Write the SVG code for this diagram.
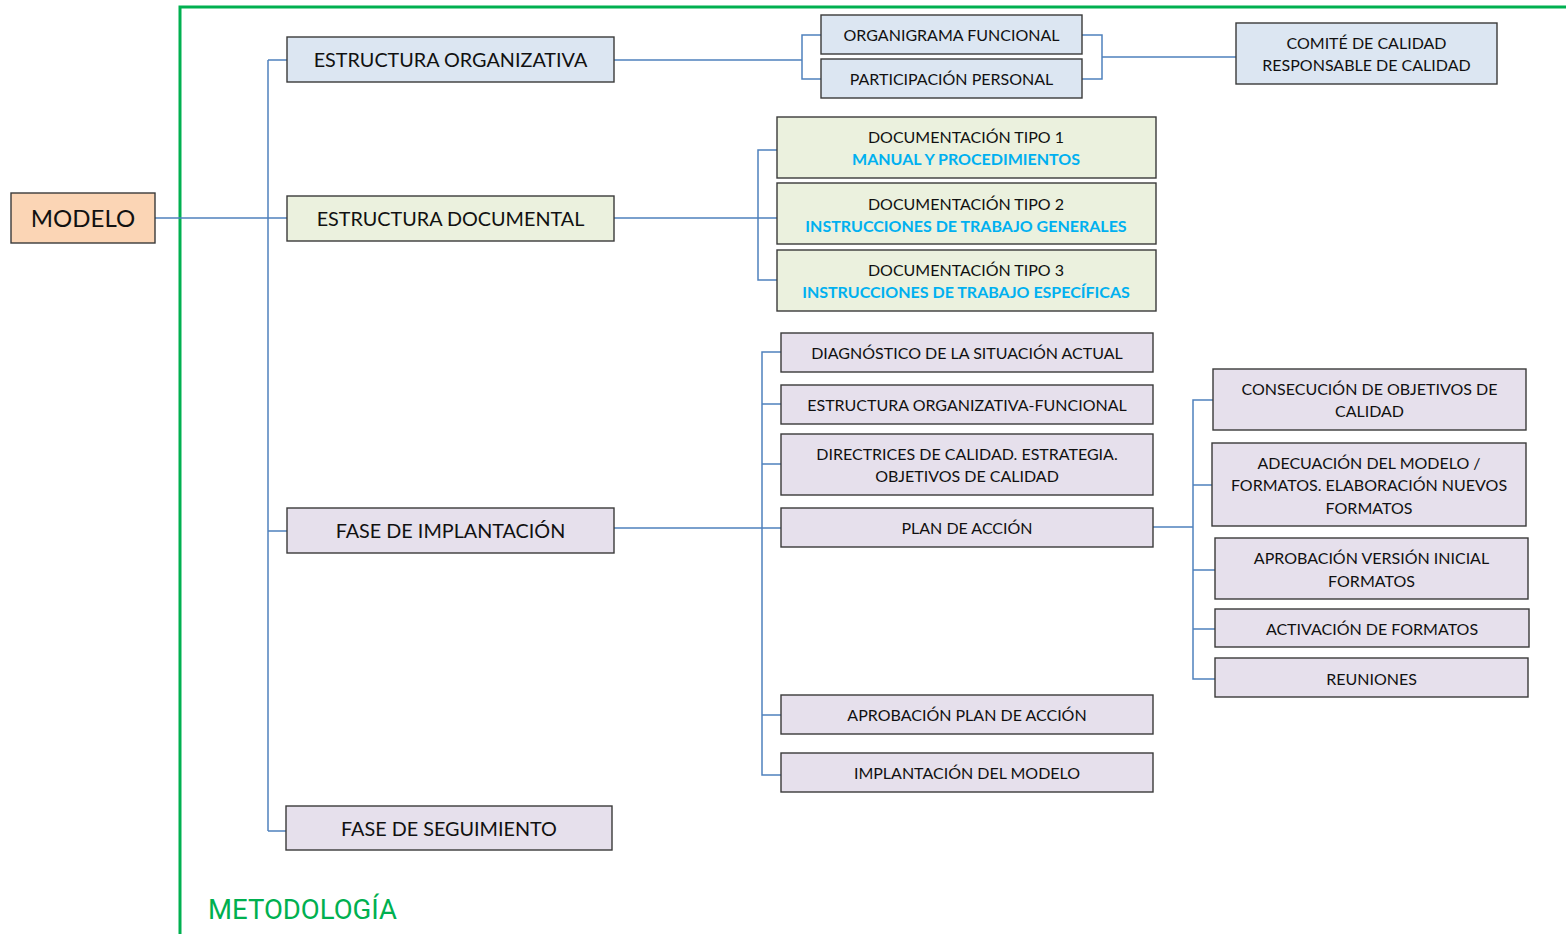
<svg xmlns="http://www.w3.org/2000/svg" width="1566" height="934" viewBox="0 0 1566 934">
  <style>
    .box rect { stroke: #3a3a3a; stroke-width: 1.4; }
    .blue rect { fill: #DCE6F2; }
    .olive rect { fill: #EBF1DE; }
    .lilac rect { fill: #E6E0EC; }
    .peach rect { fill: #FBD5B5; }
    text { font-family: Lato, "Open Sans", "Liberation Sans", sans-serif; fill: #111; text-anchor: middle; }
    .t1 { font-size: 19.8px; }
    .t2 { font-size: 16px; }
    .hl { font-size: 16px; font-weight: bold; fill: #00B0F0; }
    .conn { fill: none; stroke: #4F81BD; stroke-width: 1.5; }
  </style>

  <!-- methodology frame -->
  <g id="frame">
    <path d="M180,934 V7 H1566" fill="none" stroke="#00B050" stroke-width="3"/>
    <text x="208" y="919" textLength="189" lengthAdjust="spacingAndGlyphs" style="font-size:27px; fill:#00B050; text-anchor:start; font-family:'Liberation Sans Narrow', Roboto, sans-serif;">METODOLOGÍA</text>
  </g>

  <!-- connectors -->
  <g id="connectors" class="conn">
    <path d="M155,218 H287"/>
    <path d="M268,60 V831"/>
    <path d="M268,60 H287 M268,531 H287 M268,831 H286"/>
    <!-- estructura organizativa -->
    <path d="M614,60 H802 M821,35 H802 V79 H821"/>
    <path d="M1082,35 H1102 V79 H1082 M1102,57 H1236"/>
    <!-- estructura documental -->
    <path d="M614,218 H758 M777,150 H758 V280 H777 M758,218 H777"/>
    <!-- fase de implantación -->
    <path d="M614,528 H762 M781,352 H762 V775 H781"/>
    <path d="M762,404 H781 M762,464 H781 M762,528 H781 M762,715 H781"/>
    <!-- plan de acción -->
    <path d="M1153,527 H1193 M1213,400 H1193 V679 H1215"/>
    <path d="M1193,485 H1212 M1193,570 H1215 M1193,629 H1215"/>
  </g>

  <g id="modelo" class="box peach">
    <rect x="11" y="193" width="144" height="50"/>
    <text x="83" y="227" style="font-size:24px">MODELO</text>
  </g>

  <g id="estructura-organizativa" class="box blue">
    <rect x="287" y="37" width="327" height="45"/>
    <text class="t1" x="450.5" y="67">ESTRUCTURA ORGANIZATIVA</text>
  </g>
  <g id="organigrama" class="box blue">
    <rect x="821" y="15" width="261" height="39"/>
    <text class="t2" x="951.5" y="41">ORGANIGRAMA FUNCIONAL</text>
  </g>
  <g id="participacion" class="box blue">
    <rect x="821" y="59" width="261" height="39"/>
    <text class="t2" x="951.5" y="85">PARTICIPACIÓN PERSONAL</text>
  </g>
  <g id="comite" class="box blue">
    <rect x="1236" y="23" width="261" height="61"/>
    <text class="t2" x="1366.5" y="49">COMITÉ DE CALIDAD</text>
    <text class="t2" x="1366.5" y="71">RESPONSABLE DE CALIDAD</text>
  </g>

  <g id="estructura-documental" class="box olive">
    <rect x="287" y="196" width="327" height="45"/>
    <text class="t1" x="450.5" y="226">ESTRUCTURA DOCUMENTAL</text>
  </g>
  <g id="doc-tipo-1" class="box olive">
    <rect x="777" y="117" width="379" height="61"/>
    <text class="t2" x="966" y="143">DOCUMENTACIÓN TIPO 1</text>
    <text class="hl" x="966" y="165">MANUAL Y PROCEDIMIENTOS</text>
  </g>
  <g id="doc-tipo-2" class="box olive">
    <rect x="777" y="183" width="379" height="61"/>
    <text class="t2" x="966" y="210">DOCUMENTACIÓN TIPO 2</text>
    <text class="hl" x="966" y="232">INSTRUCCIONES DE TRABAJO GENERALES</text>
  </g>
  <g id="doc-tipo-3" class="box olive">
    <rect x="777" y="250" width="379" height="61"/>
    <text class="t2" x="966" y="276">DOCUMENTACIÓN TIPO 3</text>
    <text class="hl" x="966" y="298">INSTRUCCIONES DE TRABAJO ESPECÍFICAS</text>
  </g>

  <g id="fase-implantacion" class="box lilac">
    <rect x="287" y="508" width="327" height="45"/>
    <text class="t1" x="450.5" y="538">FASE DE IMPLANTACIÓN</text>
  </g>
  <g id="diagnostico" class="box lilac">
    <rect x="781" y="333" width="372" height="39"/>
    <text class="t2" x="967" y="359">DIAGNÓSTICO DE LA SITUACIÓN ACTUAL</text>
  </g>
  <g id="estructura-org-func" class="box lilac">
    <rect x="781" y="385" width="372" height="39"/>
    <text class="t2" x="967" y="411">ESTRUCTURA ORGANIZATIVA-FUNCIONAL</text>
  </g>
  <g id="directrices" class="box lilac">
    <rect x="781" y="434" width="372" height="61"/>
    <text class="t2" x="967" y="460">DIRECTRICES DE CALIDAD. ESTRATEGIA.</text>
    <text class="t2" x="967" y="482">OBJETIVOS DE CALIDAD</text>
  </g>
  <g id="plan-accion" class="box lilac">
    <rect x="781" y="508" width="372" height="39"/>
    <text class="t2" x="967" y="534">PLAN DE ACCIÓN</text>
  </g>
  <g id="aprobacion-plan" class="box lilac">
    <rect x="781" y="695" width="372" height="39"/>
    <text class="t2" x="967" y="721">APROBACIÓN PLAN DE ACCIÓN</text>
  </g>
  <g id="implantacion-modelo" class="box lilac">
    <rect x="781" y="753" width="372" height="39"/>
    <text class="t2" x="967" y="779">IMPLANTACIÓN DEL MODELO</text>
  </g>

  <g id="consecucion" class="box lilac">
    <rect x="1213" y="369" width="313" height="61"/>
    <text class="t2" x="1369.5" y="395">CONSECUCIÓN DE OBJETIVOS DE</text>
    <text class="t2" x="1369.5" y="417">CALIDAD</text>
  </g>
  <g id="adecuacion" class="box lilac">
    <rect x="1212" y="443" width="314" height="83"/>
    <text class="t2" x="1369" y="469">ADECUACIÓN DEL MODELO /</text>
    <text class="t2" x="1369" y="491">FORMATOS. ELABORACIÓN NUEVOS</text>
    <text class="t2" x="1369" y="514">FORMATOS</text>
  </g>
  <g id="aprobacion-version" class="box lilac">
    <rect x="1215" y="538" width="313" height="61"/>
    <text class="t2" x="1371.5" y="564">APROBACIÓN VERSIÓN INICIAL</text>
    <text class="t2" x="1371.5" y="587">FORMATOS</text>
  </g>
  <g id="activacion" class="box lilac">
    <rect x="1215" y="609" width="314" height="38"/>
    <text class="t2" x="1372" y="635">ACTIVACIÓN DE FORMATOS</text>
  </g>
  <g id="reuniones" class="box lilac">
    <rect x="1215" y="658" width="313" height="39"/>
    <text class="t2" x="1371.5" y="685">REUNIONES</text>
  </g>

  <g id="fase-seguimiento" class="box lilac">
    <rect x="286" y="806" width="326" height="44"/>
    <text class="t1" x="449" y="836">FASE DE SEGUIMIENTO</text>
  </g>
</svg>
